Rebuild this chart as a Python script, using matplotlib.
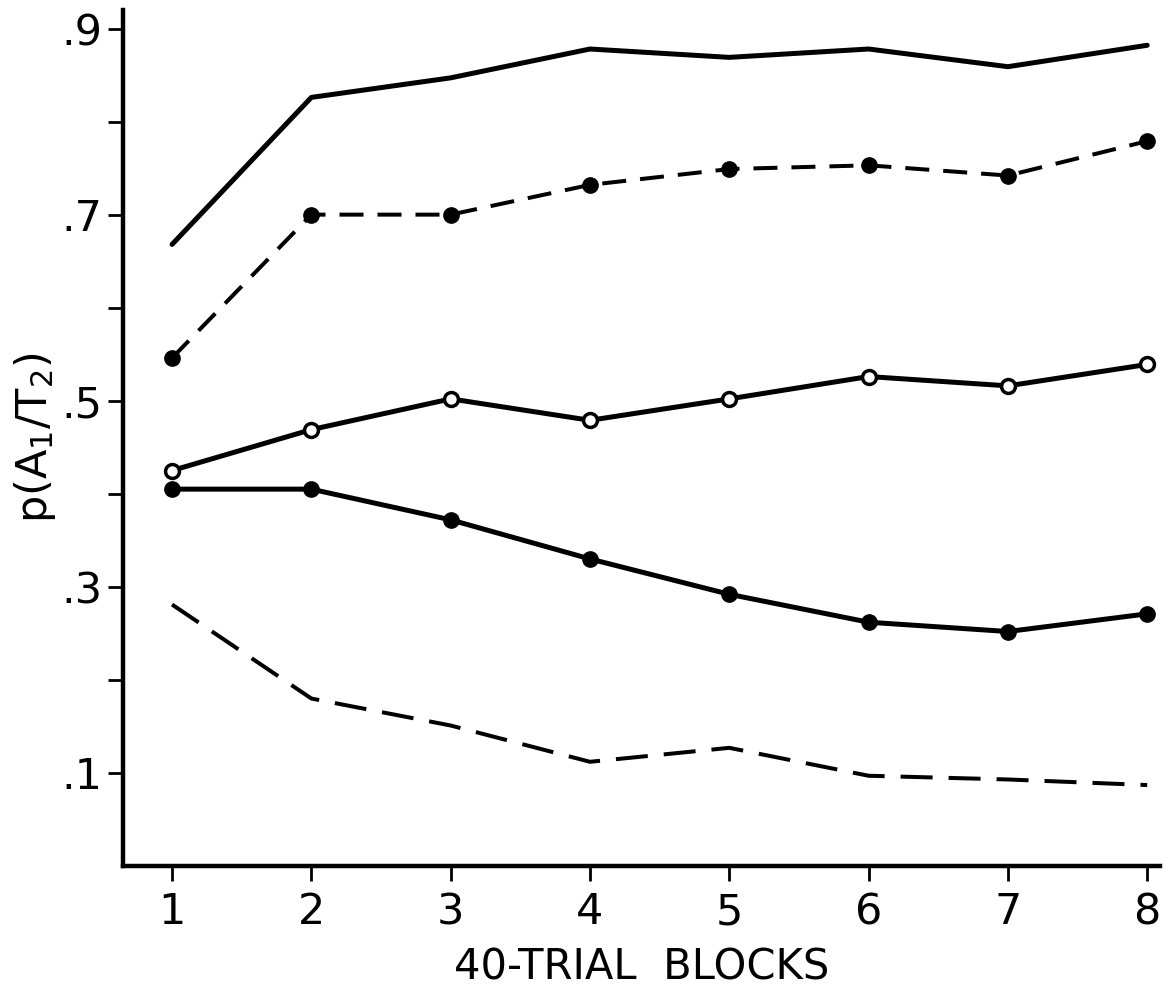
import numpy as np
import matplotlib
matplotlib.use('Agg')
import matplotlib.pyplot as plt
from matplotlib.ticker import FixedLocator, FuncFormatter

plt.rcParams['font.family'] = ['DejaVu Sans']
plt.rcParams['mathtext.default'] = 'regular'

# 40-trial blocks
blocks = [1, 2, 3, 4, 5, 6, 7, 8]

# p(A1/T2) per curve
top_solid = [0.668, 0.826, 0.847, 0.878, 0.869, 0.878, 0.859, 0.882]
upper_dashed_dots = [0.546, 0.700, 0.700, 0.732, 0.749, 0.753, 0.742, 0.779]
open_circles = [0.425, 0.469, 0.502, 0.479, 0.502, 0.526, 0.516, 0.539]
filled_circles = [0.405, 0.405, 0.372, 0.330, 0.292, 0.262, 0.252, 0.271]
bottom_dashed = [0.281, 0.180, 0.151, 0.112, 0.127, 0.097, 0.093, 0.087]

y_ticks = [0.1, 0.2, 0.3, 0.4, 0.5, 0.6, 0.7, 0.8, 0.9]
y_labeled = [0.1, 0.3, 0.5, 0.7, 0.9]

fig = plt.figure(figsize=(11.75, 9.92), dpi=100)
ax = fig.add_axes([0.1047, 0.127, 0.8823, 0.863])

lw = 3.6
ax.plot(blocks, top_solid, color='black', lw=lw, solid_capstyle='round')
ax.plot(blocks, upper_dashed_dots, color='black', lw=lw * 0.8, dashes=(6, 3.5),
        marker='o', ms=11, mfc='black', mec='black')
ax.plot(blocks, open_circles, color='black', lw=lw, marker='o', ms=10,
        mfc='white', mec='black', mew=2.5)
ax.plot(blocks, filled_circles, color='black', lw=lw, marker='o', ms=11,
        mfc='black', mec='black')
ax.plot(blocks, bottom_dashed, color='black', lw=lw * 0.8, dashes=(8, 4))

ax.set_xlim(0.648, 8.09)
ax.set_ylim(0, 0.92)

ax.spines['top'].set_visible(False)
ax.spines['right'].set_visible(False)
for s in ['left', 'bottom']:
    ax.spines[s].set_linewidth(3.2)

ax.set_xticks(blocks)
ax.yaxis.set_major_locator(FixedLocator(y_ticks))
ax.yaxis.set_major_formatter(FuncFormatter(
    lambda v, p: ('%.1f' % v).lstrip('0') if any(abs(v - t) < 1e-6 for t in y_labeled) else ''))
ax.tick_params(axis='both', direction='out', length=11, width=2, labelsize=31, pad=4)
ax.tick_params(axis='x', pad=7)

ax.set_xlabel('40-TRIAL  BLOCKS', fontsize=30, labelpad=10)
ax.set_ylabel(r'p(A$_1$/T$_2$)', fontsize=31, labelpad=2)

fig.savefig('out.png', dpi=100)
